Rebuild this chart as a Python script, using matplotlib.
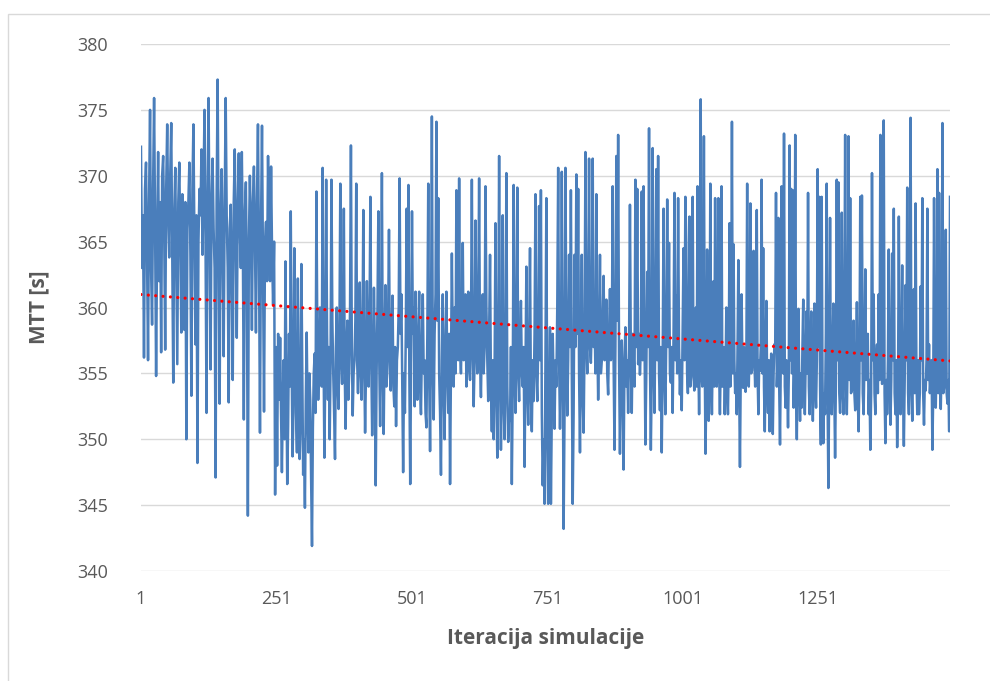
import matplotlib
matplotlib.use('Agg')
import matplotlib.pyplot as plt
from matplotlib.patches import Rectangle
import numpy as np

# MTT readings (~250 iterations each)
seg_edges = [1, 258, 508, 758, 1008, 1258, 1495]

mtt_1 = [372.2, 363, 367, 356.2, 369, 371, 364, 356, 368, 375, 363, 358.7, 369, 375.9, 366,
         354.8, 365, 371.8, 362, 368, 356.6, 370, 371.5, 366, 356.8, 369, 373.9, 367, 363.8,
         370, 374, 364, 354.3, 367, 370.6, 363, 355.7, 368, 371, 365, 358.1, 368.6, 366, 358.3,
         368, 350, 366, 368, 371, 364, 353.3, 369, 373.9, 365, 357.2, 367, 348.2, 365, 369, 367,
         372, 364, 369, 375, 365, 352, 368, 375.9, 366, 355.3, 368, 371.3, 366, 363, 347.1, 368,
         377.3, 365, 352.7, 367, 370.5, 364, 356.3, 368, 375.9, 367, 363, 352.8, 366, 367.8, 362,
         354.5, 368, 372, 365, 357.7, 368, 371.7, 366, 363, 371.8, 365, 351.5, 367, 369.5, 362,
         344.2, 365, 370, 366, 358.3, 368, 370.7, 365, 358.1, 368, 373.9, 364, 350.5, 366, 373.8,
         363, 352.1, 365, 366.5, 362, 371.5, 365, 362, 370.7, 364, 360.2, 365, 345.8, 357, 348,
         358, 353]
mtt_2 = [357.7, 352, 347.5, 353, 356, 350, 363.5, 355, 346.6, 351, 358, 354, 367.3, 356, 348.7,
         352, 364.5, 357, 352, 349, 362.2, 354, 348.5, 351, 363.3, 355, 347.3, 350, 344.8, 353,
         358.1, 352, 349, 355, 353, 347, 341.9, 350.9, 355, 356.5, 352, 368.8, 358, 353, 356, 360,
         358, 354, 370.6, 357, 348.6, 355, 369.7, 358, 353, 357, 350, 356, 369.7, 359, 355, 352,
         348.5, 357, 360, 354, 352.3, 358, 369.4, 356, 354.2, 359, 367.5, 355, 350.8, 357, 359,
         353, 355, 360, 372.3, 357, 351.8, 355, 356, 359, 369.4, 356, 353.5, 358, 361.9, 355, 353,
         357, 367.4, 356, 350.5, 355, 362, 357, 354, 359, 368.4, 356, 350.3, 354, 361.5, 357,
         346.5, 355, 360, 367.3, 356, 351, 358, 370.2, 355, 350.4, 357, 361.7, 354, 355, 359,
         365.9, 356, 353.7, 358, 360.9, 354, 352.5, 357, 351, 356, 357, 360, 369.8, 358, 361, 354,
         347.5, 355, 352, 358, 367.5, 357, 369.3, 355, 346.6, 356, 367.3, 358, 360, 352.5]
mtt_3 = [361.2, 355, 353, 358, 361.2, 354, 351.9, 357, 361, 355, 356, 352, 350.9, 358, 369.4,
         355, 349.1, 357, 374.5, 356, 351.5, 358, 361, 374.1, 359, 368.3, 355, 352, 347.3, 356,
         361, 354, 350, 357, 361.2, 355, 352, 358, 346.6, 355, 364.1, 357, 354, 360, 355, 368.9,
         358, 356, 369.8, 357, 355, 359, 364.9, 356, 357, 361, 354, 355.5, 361.2, 356, 354.5, 358,
         369.7, 357, 352.5, 356, 366.6, 358, 355, 360, 369.8, 356, 353.2, 358, 361, 355, 357,
         369.2, 360, 356, 352.9, 358, 364, 354, 350.6, 356, 350, 355, 366.4, 354, 348.6, 356,
         371.5, 355, 349.2, 354, 367, 353, 350, 355, 370.2, 354, 349.8, 352, 351.4, 357, 346.6,
         354, 369.3, 356, 352, 358, 369.1, 355, 352.9, 357, 360.5, 355, 354, 357, 347.9, 355,
         363.1, 354, 351.1, 357, 364.5, 353, 350.6, 356, 352.9, 358, 368.6, 355, 352.9, 357,
         367.7, 356, 368.9, 352, 346.5, 350, 345.1, 356, 368.3, 350, 345.1, 353, 358.5]
mtt_4 = [345.1, 352, 358, 354, 350.8, 356, 354, 360, 370.6, 356, 350.8, 355, 370.3, 357, 343.2,
         352, 370.6, 358, 351.8, 356, 364, 357, 368.9, 355, 345.1, 352, 364, 357, 370.1, 358,
         369, 355, 349, 357, 364, 353, 350.5, 357, 371.8, 358, 355, 360, 371.3, 357, 355.8, 359,
         371.3, 357, 359.4, 355, 368.6, 358, 353, 357, 364, 355, 356, 359, 362.4, 356, 357,
         360.6, 355, 353.4, 358, 361.4, 356, 357, 369.2, 356, 349.2, 357, 371.5, 359, 373.1, 356,
         348.9, 355, 357.5, 353, 347.7, 356, 358.5, 354, 356, 352, 357, 367.8, 356, 352, 358,
         356.5, 354, 369.7, 357, 369, 355.7, 358, 354.9, 357, 368.8, 356, 369.2, 358, 349.6, 355,
         362.7, 357, 373.6, 356, 349.2, 355, 372.1, 357, 352, 359, 370.5, 356, 371.5, 355, 352.2,
         357, 349, 356, 367.5, 355, 351.9, 358, 368.2, 357, 364.9, 355, 354.3, 357, 352, 358,
         368.7, 356, 360.9, 355, 368.3, 357, 353.4, 356, 352.2, 358, 364.5, 356, 368.4]
mtt_5 = [364.8, 355, 353.5, 357, 366.9, 354, 354.7, 358, 368.4, 355, 353.7, 356, 360, 354, 369.2,
         356, 351.9, 357, 375.8, 355, 354, 357, 373, 356, 348.9, 354, 364.4, 356, 351.4, 355,
         369.4, 356, 351.9, 357, 362, 354, 368.3, 355, 354, 357, 368.3, 355, 351.9, 356, 369.2,
         354, 354, 357, 351.9, 355, 360, 354, 351.9, 356, 366.4, 354, 357, 374.1, 355, 364.8, 356,
         353.5, 355, 351.9, 357, 363.6, 354, 347.9, 355, 361, 356, 353.9, 357, 355, 353.6, 356,
         369.4, 355, 354, 357, 367.9, 355, 355.2, 357, 364.3, 356, 354, 358, 367.4, 355, 351.9,
         356, 355.2, 357, 369.7, 355, 364.5, 354, 350.6, 356, 360.5, 354, 352, 356, 350.6, 354,
         356.5, 353, 350.4, 355, 357.2, 357, 368.7, 354, 356, 366.8, 354, 349.6, 356, 369.2,
         358.6, 355, 373.2, 354, 352.4, 356, 354, 350.9, 355, 372.3, 356, 369, 355, 368.9, 352.4,
         356, 373.1, 354, 350, 356, 359.9, 354, 351.4, 355, 352.4, 357, 360.6, 354, 351.9, 356,
         359.7, 355, 368.7, 354, 351.9, 356, 359.7, 354, 351.4, 355, 360.3, 354, 352.4, 356,
         370.5, 357, 368.4, 354, 349.6]
mtt_6 = [368.4, 354.5, 349.7, 353.5, 351.9, 358, 369.4, 353.5, 346.3, 354.5, 366.8, 353.5, 351.9,
         356, 360.3, 354, 348.6, 354.5, 369.7, 356, 369.5, 353.5, 352, 356, 367.2, 353.5, 351.9,
         358, 373.1, 354.5, 351.9, 356, 373, 354.5, 368.3, 353.5, 353.7, 356, 359, 353.5, 352.2,
         356, 360.4, 353.5, 350.6, 354.5, 368.4, 356, 368.5, 353.5, 351.9, 356, 362.9, 354.5,
         354.7, 358, 351.9, 354.5, 349.2, 353.5, 370.2, 356, 361, 353.5, 351.9, 356, 357.2, 353.5,
         361, 354.5, 373.1, 356, 354.2, 354.5, 374.2, 353.5, 349.7, 354.5, 351.9, 356, 364.4,
         353.5, 351.1, 354.5, 364.1, 356, 367.5, 353.5, 351.9, 356, 349.4, 353.5, 366.9, 354.5,
         351.9, 356, 363.2, 353.5, 349.5, 354.5, 361.7, 356, 369.1, 353.5, 351.9, 356, 374.4,
         354.5, 351.4, 356, 361.4, 353.5, 367.9, 354.5, 351.9, 356, 351.9, 353.5, 361.6, 356,
         368.3, 353.5, 351.1, 354.5, 353.7, 356, 367.5, 354.5, 357.2, 353.5, 354.7, 356, 349.2,
         353.5, 368.3, 354.5, 352.4, 356, 370.5, 353.5, 368.7, 354.5, 352.3, 356, 374, 353.5,
         353.9, 356, 365.9, 353.5, 352.7, 354.5, 350.6, 368.4]

segments = [mtt_1, mtt_2, mtt_3, mtt_4, mtt_5, mtt_6]
xticks = [1, 251, 501, 751, 1001, 1251]

txt_col = '#595959'
line_col = '#4A7EBB'

# spread each block of readings over its iteration range
xs, ys = [], []
for k, seg in enumerate(segments):
    last = (k == len(segments) - 1)
    xs.append(np.linspace(seg_edges[k], seg_edges[k + 1], len(seg), endpoint=last))
    ys.append(np.array(seg, dtype=float))
x = np.concatenate(xs)
y = np.concatenate(ys)

fig = plt.figure(figsize=(9.9, 6.81), dpi=100)
ax = fig.add_axes([0.1424, 0.1615, 0.8172, 0.7739])

# outer chart border (Excel style), only left/top edges show in the crop
fig.patches.append(Rectangle((7.5 / 990, -0.1), 1.2, 1 - 13.5 / 681 + 0.1,
                             transform=fig.transFigure, fill=False,
                             edgecolor='#d9d9d9', lw=1.0))

ax.plot(x, y, color=line_col, lw=1.8, zorder=3)

# linear trend line
k, b = np.polyfit(x, y, 1)
xt = np.array([seg_edges[0], seg_edges[-1]])
ax.plot(xt, k * xt + b, color='#FF0000', lw=2.3, linestyle=(0, (0.01, 2.3)),
        dash_capstyle='round', zorder=4)

ax.set_xlim(seg_edges[0], seg_edges[-1])
ax.set_ylim(340, 380)
ax.set_yticks(np.arange(340, 381, 5))
ax.set_xticks(xticks)
ax.set_xticklabels([str(t) for t in xticks])
ax.grid(axis='y', color='#d9d9d9', lw=1.0)
ax.set_axisbelow(True)
for s in ax.spines.values():
    s.set_visible(False)
ax.tick_params(length=0, labelsize=13, colors=txt_col, pad=24)
ax.tick_params(axis='x', pad=14)
for lbl in ax.get_xticklabels() + ax.get_yticklabels():
    lbl.set_family('Open Sans')

ax.set_xlabel('Iteracija simulacije', fontsize=15, fontweight='bold', color=txt_col,
              family='Open Sans', labelpad=14)
ax.set_ylabel('MTT [s]', fontsize=15, fontweight='bold', color=txt_col,
              family='Open Sans', labelpad=20)

plt.savefig('out.png', dpi=100)
